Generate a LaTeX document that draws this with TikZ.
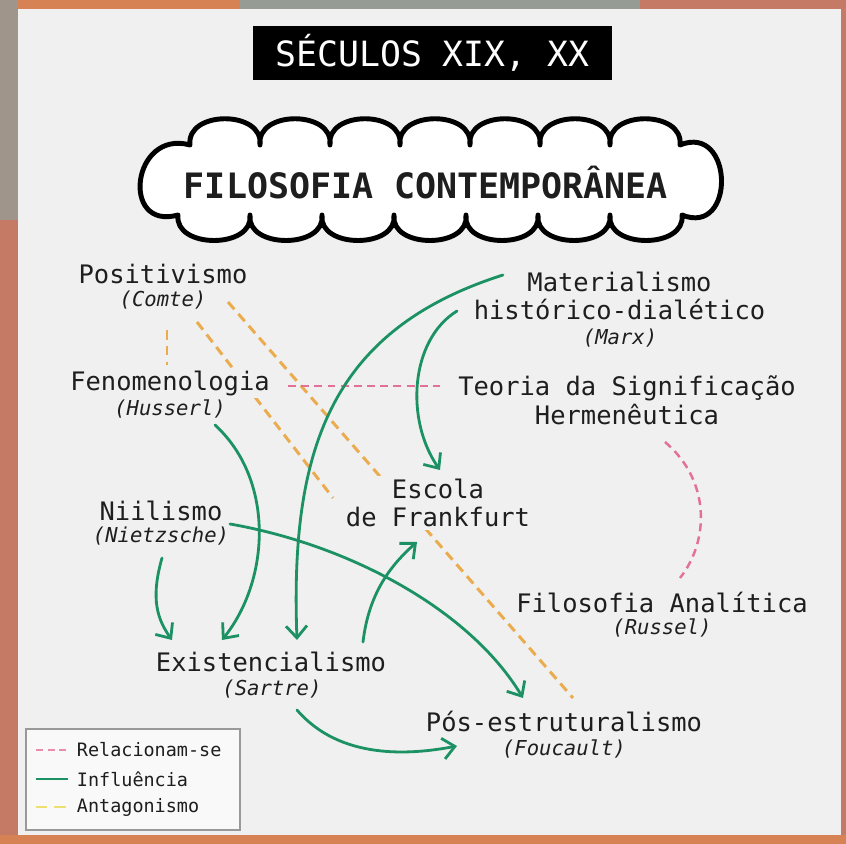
\documentclass[tikz,border=0pt]{standalone}
\usepackage{fontspec}
\setmainfont{DejaVu Sans Mono}
\usepackage{xcolor}
\usepackage{tikz}
\usetikzlibrary{arrows.meta, calc}
\definecolor{panelgray}{RGB}{240,240,240}
\definecolor{inkblack}{RGB}{30,30,30}
\definecolor{inflgreen}{RGB}{28,146,100}
\definecolor{antorange}{RGB}{234,172,78}
\definecolor{relpink}{RGB}{226,112,152}
\definecolor{legyellow}{RGB}{236,224,112}
\definecolor{wallred}{RGB}{196,122,100}
\definecolor{wallgray}{RGB}{150,156,148}
\definecolor{wallorange}{RGB}{214,130,84}
\pgfdeclarelayer{back}
\pgfdeclarelayer{links}
\pgfsetlayers{back,links,main}
\tikzset{
    school/.style={
        text=inkblack,
        inner sep=1.5pt,
        align=center,
        font=\fontsize{14.5}{16.4}\selectfont
    },
    thinker/.style={
        text=inkblack,
        inner sep=1.5pt,
        font=\fontsize{11.7}{14}\selectfont\itshape
    },
    masking/.style={fill=panelgray},
    influence/.style={
        -{Straight Barb[length=2.4mm, width=4.2mm]},
        draw=inflgreen,
        line width=1.6pt,
        line cap=round
    },
    antagonism/.style={
        draw=antorange,
        line width=1.7pt,
        dash pattern=on 5.5pt off 3.5pt
    },
    related/.style={
        draw=relpink,
        line width=1.4pt,
        dash pattern=on 4.5pt off 3pt
    }
}

\begin{document}
\begin{tikzpicture}[
        x=0.02cm, y=-0.02cm,
        cloudline/.style={draw=black, fill=white, line width=2.8pt, line join=round},
        bannertext/.style={
            text=inkblack, font=\fontsize{19.9}{22}\selectfont\bfseries
        },
        era/.style={
            fill=black, text=white, minimum width=7.18cm, minimum height=1.08cm,
            inner sep=0pt, font=\fontsize{19.8}{22}\selectfont
        },
        legtext/.style={anchor=west, inner sep=1.5pt, text=inkblack,
            font=\fontsize{10.5}{12}\selectfont}
    ]
        \useasboundingbox (0,0) rectangle (846,844);
        \begin{pgfonlayer}{back}
            % painted wall round the sheet
            \fill[wallred] (0,0) rectangle (846,844);
            \fill[wallorange] (0,0) rectangle (240,9);
            \fill[wallgray] (240,0) rectangle (640,9);
            \fill[wallgray!80!wallred] (0,0) rectangle (18,220);
            \fill[wallorange] (0,835) rectangle (846,844);
            \fill[panelgray] (18,9) rectangle (841,835);
        \end{pgfonlayer}

        % title and cloud
        \node[era] (era) at (432.5,53) {SÉCULOS XIX, XX};
        \draw[cloudline] (190,145)
            foreach \x in {190,260,...,610} { .. controls +(-4,-35) and +(4,-35) .. (\x+70,145) }
            .. controls +(54,-22) and +(54,22) .. (682,215)
            foreach \x in {682,610,...,250} { .. controls +(4,34) and +(-4,34) .. (\x-72,215) }
            .. controls +(-58,16) and +(-58,-16) .. (190,145) -- cycle;
        \node[bannertext] (fctext) at (426,183) {FILOSOFIA CONTEMPORÂNEA};

        % schools, each with its thinker below
        \node[school] (pos)   at (163,274) {Positivismo};
        \node[thinker] (posA) at (163,300) {(Comte)};
        \node[school, masking] (fen) at (170,383) {Fenomenologia};
        \node[thinker] (fenA) at (170,409) {(Husserl)};
        \node[school] (nii)   at (161,511) {Niilismo};
        \node[thinker] (niiA) at (161,536) {(Nietzsche)};
        \node[school] (exi)   at (271,662) {Existencialismo};
        \node[thinker] (exiA) at (272,689) {(Sartre)};
        \node[school, masking] (esc) at (438,503) {Escola\\de Frankfurt};
        \node[school] (mat)   at (619.5,296) {Materialismo\\histórico-dialético};
        \node[thinker] (matA) at (620,338) {(Marx)};
        \node[school] (teo)   at (627,400) {Teoria da Significação\\Hermenêutica};
        \node[school] (ana)   at (662,602) {Filosofia Analítica};
        \node[thinker] (anaA) at (662,628) {(Russel)};
        \node[school] (pst)   at (564,721) {Pós-estruturalismo};
        \node[thinker] (pstA) at (564,749) {(Foucault)};

        \begin{pgfonlayer}{links}
            % antagonism: runs behind the labels it crosses
            \draw[antagonism] ($(posA)+(4,30)$) -- ($(fen)+(-3,-18)$);
            \draw[antagonism] ($(posA)+(34,22)$) -- ($(esc)+(-105,-5)$);
            \draw[antagonism] ($(posA)+(65,2)$) -- ($(pst)+(9,-23)$);
            % related
            \draw[related] ($(fen)+(118,3)$) -- ($(teo)+(-187,-14)$);
            \draw[related] ($(teo)+(38,42)$)
                .. controls +(45,38) and +(30,-38) .. ($(ana)+(18,-24)$);
            % influence
            \draw[influence] ($(mat)+(-116.5,-21)$)
                .. controls +(-173,55) and +(-7,-190) .. ($(exi)+(26,-22)$);
            \draw[influence] ($(mat)+(-162.5,15)$)
                .. controls +(-47,29) and +(-35,-50) .. ($(esc)+(2,-33)$);
            \draw[influence] ($(fenA)+(45,16)$)
                .. controls +(60,55) and +(48,-60) .. ($(exi)+(-49,-22)$);
            \draw[influence] ($(niiA)+(1,22)$)
                .. controls +(-12,42) and +(-14,-20) .. ($(exi)+(-99,-22)$);
            \draw[influence] ($(nii)+(69,13)$)
                .. controls +(120,21) and +(-53,-88) .. ($(pst)+(-41,-23)$);
            \draw[influence] ($(exi)+(92,-20)$)
                .. controls +(5,-42) and +(-32,28) .. ($(esc)+(-21,39)$);
            \draw[influence] ($(exiA)+(25,21)$)
                .. controls +(43,50) and +(-47,9) .. ($(pstA)+(-107,-3)$);
        \end{pgfonlayer}

        % legend
        \draw[draw=gray!80, fill=white!60!panelgray, line width=0.9pt] (26,729) rectangle (240,830);
        \node[legtext] (legrel) at (74,750) {Relacionam-se};
        \node[legtext] (leginf) at (74,779) {Influência};
        \node[legtext] (legant) at (74,807) {Antagonismo};
        \draw[relpink!80, line width=1.2pt, dash pattern=on 4pt off 2.6pt]
            ($(legrel.west)+(-38,0)$) -- ($(legrel.west)+(-6,0)$);
        \draw[inflgreen, line width=1.6pt] ($(leginf.west)+(-38,0)$) -- ($(leginf.west)+(-6,0)$);
        \draw[legyellow, line width=1.4pt, dash pattern=on 6.5pt off 4pt]
            ($(legant.west)+(-38,0)$) -- ($(legant.west)+(-6,0)$);
\end{tikzpicture}
\end{document}
